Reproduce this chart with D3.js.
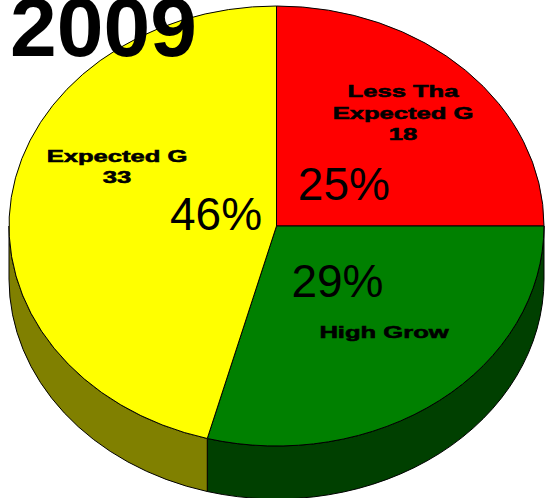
<!DOCTYPE html>
<html>
<head>
<meta charset="utf-8">
<script src="https://cdn.jsdelivr.net/npm/d3@7"></script>
<style>
  html, body { margin: 0; padding: 0; background: #fff; overflow: hidden; }
  svg { display: block; }
</style>
</head>
<body>
<svg id="chart" width="545" height="498"></svg>
<script>
// ---- data ----
const title = "2009";
const nextTitle = "2010";
const categories = ["Less Than Expected Growth", "High Growth", "Expected Growth"];
const shownLabels = [["Less Tha", "Expected G", "18"], ["High Grow"], ["Expected G", "33"]];
const values = [18, 21, 33];
const percentLabels = ["25%", "29%", "46%"];
const topColors = ["#ff0000", "#008000", "#ffff00"];
const sideColors = ["#800000", "#004000", "#808000"];

// ---- layout (not data) ----
const W = 545, H = 498;
const cx = 276.5, cy = 226, rx = 267.5, ry = 220, depth = 53;
// label anchors as fractions of the radii from the centre
const catPos = [[0.473, -0.586], [0.402, 0.509], [-0.596, -0.291]];
const pctPos = [[0.252, -0.118], [0.228, 0.323], [-0.226, 0.018]];
const lineH = 21.5;

const svg = d3.select("#chart");
const color = d3.scaleOrdinal().domain(categories).range(topColors);
const side = d3.scaleOrdinal().domain(categories).range(sideColors);
const fx = d3.scaleLinear().domain([-1, 1]).range([cx - rx, cx + rx]);
const fy = d3.scaleLinear().domain([-1, 1]).range([cy - ry, cy + ry]);

const pie = d3.pie().sort(null).value(d => d.v).startAngle(0).endAngle(2 * Math.PI);
const arcs = pie(categories.map((c, i) => ({ c, v: values[i], i })));

const pt = (a, off) => [cx + rx * Math.sin(a), cy - ry * Math.cos(a) + (off || 0)];
function ellArc(a0, a1, off, sweep) {
  const p = pt(sweep ? a1 : a0, off);
  const large = Math.abs(a1 - a0) > Math.PI ? 1 : 0;
  return `A${rx},${ry} 0 ${large} ${sweep ? 1 : 0} ${p[0]},${p[1]}`;
}
function topPath(d) {
  const p0 = pt(d.startAngle);
  return `M${cx},${cy}L${p0[0]},${p0[1]}` + ellArc(d.startAngle, d.endAngle, 0, 1) + "Z";
}
function sidePath(d) {
  // visible front part: angles between PI/2 and 3PI/2
  const a0 = Math.max(d.startAngle, Math.PI / 2);
  const a1 = Math.min(d.endAngle, 3 * Math.PI / 2);
  if (a1 <= a0) return null;
  const p0 = pt(a0), p1b = pt(a1, depth);
  return `M${p0[0]},${p0[1]}` + ellArc(a0, a1, 0, 1) +
         `L${p1b[0]},${p1b[1]}` + ellArc(a0, a1, depth, 0) + "Z";
}

// sides
svg.append("g").selectAll("path")
  .data(arcs.filter(d => sidePath(d)))
  .join("path")
  .attr("d", sidePath)
  .attr("fill", d => side(d.data.c))
  .attr("stroke", "#000")
  .attr("stroke-width", 1)
  .attr("stroke-linejoin", "round");

// tops
svg.append("g").selectAll("path")
  .data(arcs)
  .join("path")
  .attr("d", topPath)
  .attr("fill", d => color(d.data.c))
  .attr("stroke", "#000")
  .attr("stroke-width", 1)
  .attr("stroke-linejoin", "round");

// category labels (stretched heavy text)
const catG = svg.append("g");
arcs.forEach((d, i) => {
  const x = fx(catPos[i][0]), y = fy(catPos[i][1]);
  shownLabels[i].forEach((line, k) => {
    catG.append("text")
      .attr("transform", `translate(${x},${y + k * lineH}) scale(1.6,1)`)
      .attr("text-anchor", "middle")
      .attr("font-family", "Liberation Sans, Arial, sans-serif")
      .attr("font-weight", "bold")
      .attr("font-size", 16)
      .attr("fill", "#000")
      .attr("stroke", "#000")
      .attr("stroke-width", 0.55)
      .text(line);
  });
});

// percentage labels
svg.append("g").selectAll("text")
  .data(arcs)
  .join("text")
  .attr("x", (d, i) => fx(pctPos[i][0]))
  .attr("y", (d, i) => fy(pctPos[i][1]))
  .attr("text-anchor", "middle")
  .attr("font-family", "Liberation Sans, Arial, sans-serif")
  .attr("font-size", 46)
  .attr("fill", "#000")
  .text((d, i) => percentLabels[i]);

// title
svg.append("text")
  .attr("x", 10).attr("y", 56)
  .attr("font-family", "Liberation Sans, Arial, sans-serif")
  .attr("font-weight", "bold")
  .attr("font-size", 84)
  .attr("fill", "#000")
  .text(title);

// next chart's title, only its top edge shows
svg.append("text")
  .attr("x", -3).attr("y", 558)
  .attr("font-family", "Liberation Sans, Arial, sans-serif")
  .attr("font-weight", "bold")
  .attr("font-size", 84)
  .attr("fill", "#000")
  .text(nextTitle);
</script>
</body>
</html>
